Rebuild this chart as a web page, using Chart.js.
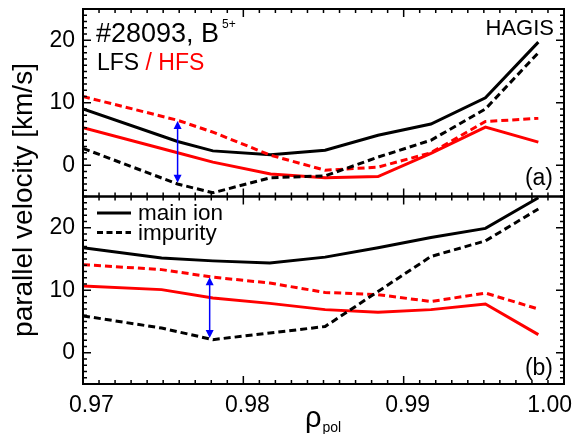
<!DOCTYPE html>
<html>
<head>
<meta charset="utf-8">
<script src="https://cdn.jsdelivr.net/npm/chart.js"></script>
<style>
  html, body { margin: 0; padding: 0; background: #fff; }
  canvas { display: block; }
</style>
</head>
<body>
<canvas id="velChart" width="577" height="434"></canvas>
<script>
// radial grid of each panel (rho_pol)
const rhoA = [0.970, 0.9759, 0.9781, 0.9817, 0.9851, 0.9884, 0.9917, 0.9951, 0.9984];
const rhoB = [0.970, 0.9749, 0.9781, 0.98165, 0.9851, 0.9884, 0.9917, 0.9951, 0.9984];

// panel (a): parallel velocity [km/s]
const aLfsMain = [9.0, 3.8, 2.3, 1.7, 2.4, 4.8, 6.6, 10.8, 19.7];
const aLfsImp = [2.7, -3.0, -4.4, -2.0, -1.7, 1.3, 4.0, 9.0, 18.0];
const aHfsMain = [6.0, 2.0, 0.5, -1.4, -2.0, -1.8, 1.9, 6.1, 3.7];
const aHfsImp = [11.0, 7.2, 5.3, 1.6, -0.8, -0.3, 2.0, 7.0, 7.5];

// panel (b)
const bLfsMain = [16.8, 15.15, 14.7, 14.35, 15.3, 16.8, 18.45, 19.9, 24.8];
const bLfsImp = [5.9, 3.95, 2.1, 3.15, 4.2, 9.8, 15.4, 17.9, 23.0];
const bHfsMain = [10.7, 10.1, 8.75, 7.9, 6.9, 6.5, 6.9, 7.8, 2.9];
const bHfsImp = [14.1, 13.3, 12.1, 11.15, 9.65, 9.3, 8.2, 9.55, 7.0];

// blue double arrows (HFS/LFS impurity gap)
const arrowAxis = ["yA", "yB"];
const arrowRho = [0.9759, 0.9779];
const arrowTop = [7.1, 12.1];
const arrowBot = [-2.8, 2.35];

// tick labels
const xTicks = [0.97, 0.98, 0.99, 1.0];
const xTickLabels = ["0.97", "0.98", "0.99", "1.00"];
const yTicks = [0, 10, 20];

const FONT = '"Liberation Sans", Arial, Helvetica, sans-serif';
const RED = "#ff0000";

const pts = (xs, ys) => xs.map((x, i) => ({ x: x, y: ys[i] }));
function ds(xs, ys, color, dashed, axis) {
  return {
    data: pts(xs, ys),
    borderColor: color,
    borderWidth: 3,
    borderDash: dashed ? [7, 4] : [],
    pointRadius: 0,
    tension: 0,
    fill: false,
    yAxisID: axis,
  };
}

// frame, inward ticks, labels and annotations (IDL look)
const framePlugin = {
  id: "frame",
  afterDraw(chart) {
    const ctx = chart.ctx;
    const xs = chart.scales.x;
    const left = chart.chartArea.left;
    const right = chart.chartArea.right;
    ctx.save();
    ctx.strokeStyle = "#000";
    ctx.fillStyle = "#000";

    ["yA", "yB"].forEach((id) => {
      const ys = chart.scales[id];
      const top = ys.top;
      const bot = ys.bottom;
      ctx.lineWidth = 1.5;
      ctx.beginPath();
      for (let v = -5; v <= 25; v++) {
        const py = ys.getPixelForValue(v);
        const len = v % 10 === 0 ? 8 : 4;
        ctx.moveTo(left, py);
        ctx.lineTo(left + len, py);
        ctx.moveTo(right, py);
        ctx.lineTo(right - len, py);
      }
      for (let k = 0; k <= 30; k++) {
        const px = xs.getPixelForValue(0.97 + k * 0.001);
        const len = k % 10 === 0 ? 8 : 4;
        ctx.moveTo(px, bot);
        ctx.lineTo(px, bot - len);
        ctx.moveTo(px, top);
        ctx.lineTo(px, top + len);
      }
      ctx.stroke();
      ctx.lineWidth = 2;
      ctx.strokeRect(left, top, right - left, bot - top);

      ctx.font = "23px " + FONT;
      ctx.textAlign = "right";
      ctx.textBaseline = "middle";
      yTicks.forEach((v) => ctx.fillText(String(v), left - 8, ys.getPixelForValue(v)));
    });

    // x tick labels, kept inside the canvas
    ctx.font = "23px " + FONT;
    ctx.textAlign = "left";
    ctx.textBaseline = "alphabetic";
    xTicks.forEach((v, i) => {
      const w = ctx.measureText(xTickLabels[i]).width;
      let x0 = xs.getPixelForValue(v) + 4 - w / 2;
      x0 = Math.max(69, Math.min(x0, 572 - w));
      ctx.fillText(xTickLabels[i], x0, 412);
    });

    // axis titles
    ctx.font = "29px " + FONT;
    ctx.fillText("\u03c1", 305, 427);
    const wr = ctx.measureText("\u03c1").width;
    ctx.font = "14px " + FONT;
    ctx.fillText("pol", 305 + wr + 1, 432);

    ctx.save();
    ctx.translate(24, 200);
    ctx.rotate(-Math.PI / 2);
    ctx.font = "28px " + FONT;
    ctx.textAlign = "center";
    ctx.textBaseline = "middle";
    ctx.fillText("parallel velocity [km/s]", 0, 0);
    ctx.restore();

    // annotations panel (a)
    ctx.textAlign = "left";
    ctx.font = "27px " + FONT;
    ctx.fillText("#28093, B", 96, 42);
    ctx.font = "12px " + FONT;
    ctx.fillText("5+", 222, 28);
    ctx.font = "23px " + FONT;
    ctx.fillText("LFS", 97, 70);
    const wl = ctx.measureText("LFS").width;
    ctx.fillStyle = RED;
    ctx.fillText(" / HFS", 97 + wl, 70);
    ctx.fillStyle = "#000";
    ctx.font = "22px " + FONT;
    ctx.textAlign = "right";
    ctx.fillText("HAGIS", 554, 35);
    ctx.font = "23px " + FONT;
    ctx.fillText("(a)", 553, 185);
    ctx.fillText("(b)", 553, 375);

    // legend panel (b)
    ctx.textAlign = "left";
    ctx.lineWidth = 3;
    ctx.beginPath();
    ctx.moveTo(97, 213);
    ctx.lineTo(131, 213);
    ctx.stroke();
    ctx.setLineDash([6, 3.5]);
    ctx.beginPath();
    ctx.moveTo(97, 232.5);
    ctx.lineTo(131, 232.5);
    ctx.stroke();
    ctx.setLineDash([]);
    ctx.font = "22.5px " + FONT;
    ctx.fillText("main ion", 138, 220);
    ctx.fillText("impurity", 138, 240);

    // blue arrows
    ctx.strokeStyle = "#0000ff";
    ctx.fillStyle = "#0000ff";
    arrowRho.forEach((r, i) => {
      const ys = chart.scales[arrowAxis[i]];
      const px = xs.getPixelForValue(r);
      const p1 = ys.getPixelForValue(arrowTop[i]);
      const p2 = ys.getPixelForValue(arrowBot[i]);
      ctx.lineWidth = 1.5;
      ctx.beginPath();
      ctx.moveTo(px, p1 + 6);
      ctx.lineTo(px, p2 - 6);
      ctx.stroke();
      ctx.beginPath();
      ctx.moveTo(px, p1);
      ctx.lineTo(px - 4, p1 + 8);
      ctx.lineTo(px + 4, p1 + 8);
      ctx.closePath();
      ctx.moveTo(px, p2);
      ctx.lineTo(px - 4, p2 - 8);
      ctx.lineTo(px + 4, p2 - 8);
      ctx.closePath();
      ctx.fill();
    });
    ctx.restore();
  },
};

const hiddenAxis = {
  ticks: { display: false },
  grid: { display: false, drawTicks: false },
  border: { display: false },
};

new Chart(document.getElementById("velChart"), {
  type: "line",
  data: {
    datasets: [
      ds(rhoA, aLfsImp, "#000", true, "yA"),
      ds(rhoA, aHfsImp, RED, true, "yA"),
      ds(rhoA, aHfsMain, RED, false, "yA"),
      ds(rhoA, aLfsMain, "#000", false, "yA"),
      ds(rhoB, bLfsImp, "#000", true, "yB"),
      ds(rhoB, bHfsImp, RED, true, "yB"),
      ds(rhoB, bHfsMain, RED, false, "yB"),
      ds(rhoB, bLfsMain, "#000", false, "yB"),
    ],
  },
  options: {
    responsive: false,
    animation: false,
    devicePixelRatio: 1,
    layout: { padding: { left: 83, top: 9, right: 13, bottom: 50 } },
    plugins: { legend: { display: false }, tooltip: { enabled: false } },
    scales: {
      x: { type: "linear", min: 0.97, max: 1.0, ...hiddenAxis },
      // bottom panel first: left stacks are placed in reverse order
      yB: { type: "linear", position: "left", stack: "v", stackWeight: 1, min: -5, max: 25, ...hiddenAxis },
      yA: { type: "linear", position: "left", stack: "v", stackWeight: 1, min: -5, max: 25, ...hiddenAxis },
    },
  },
  plugins: [framePlugin],
});
</script>
</body>
</html>
